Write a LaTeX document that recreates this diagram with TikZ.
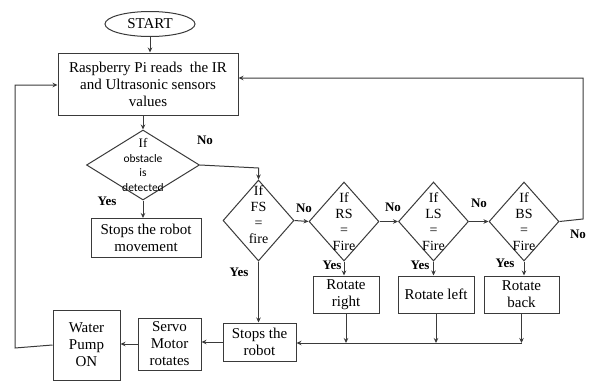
\documentclass[tikz,border=0pt]{standalone}
\usepackage{fontspec}
\setmainfont{Liberation Serif}
\newfontfamily\calfont{Carlito}
\usetikzlibrary{shapes.geometric,arrows.meta}
\definecolor{ln}{HTML}{3A3A3A}
\begin{document}
\begin{tikzpicture}[x=1pt,y=-1pt,
  every path/.style={line width=1pt},
  box/.style={draw=ln, rectangle, inner sep=0pt, align=center, font=\fontsize{15}{17}\selectfont},
  startnode/.style={draw=ln, ellipse, inner sep=0pt, minimum width=90pt, minimum height=25pt, font=\fontsize{15}{17}\selectfont},
  dia/.style={draw=ln, diamond, inner sep=0pt, minimum width=70pt, minimum height=80pt},
  dtxt/.style={align=center, inner sep=0pt, font=\fontsize{14}{16}\selectfont},
  obstxt/.style={align=center, inner sep=0pt, font=\fontsize{11.5}{14.5}\calfont},
  lbl/.style={inner sep=0pt, font=\fontsize{13}{15}\selectfont\bfseries},
  arr/.style={draw=ln, -{Stealth[length=5pt,width=4.5pt]}},
  ln/.style={draw=ln}
]
\useasboundingbox (0,0) rectangle (589,383);

% nodes
\node[startnode] (start) at (150,24) {START};
\node[box, minimum width=180pt, minimum height=62pt] (rpi) at (148,84) {Raspberry Pi reads\ \ the IR\\and Ultrasonic sensors\\values};
\node[dia, minimum width=113pt, minimum height=70pt] (obs) at (143,165) {};
\node[obstxt] (obst) at (143,165) {{\fontsize{13}{14.5}\rmfamily If}\\obstacle\\is\\detected};
\node[box, minimum width=110pt, minimum height=39pt] (stm) at (146,238) {Stops the robot\\movement};

\node[dia, minimum width=71pt, minimum height=81pt] (fs) at (258.5,220.5) {};
\node[dtxt] (fst) at (258.5,215) {If\\FS\\=\\fire};
\node[dia, minimum height=79pt] (rs) at (344,221.5) {};
\node[dtxt] (rst) at (344,222) {If\\RS\\=\\Fire};
\node[dia, minimum height=79pt] (ls) at (433.5,221.5) {};
\node[dtxt] (lst) at (433.5,222) {If\\LS\\=\\Fire};
\node[dia, minimum height=79pt] (bs) at (524,221.5) {};
\node[dtxt] (bst) at (524,222) {If\\BS\\=\\Fire};

\node[box, minimum width=66pt, minimum height=37pt] (rr) at (346,294.5) {Rotate\\right};
\node[box, minimum width=76pt, minimum height=37pt] (rl) at (436,294.5) {Rotate left};
\node[box, minimum width=75pt, minimum height=37pt] (rb) at (521.5,294.5) {Rotate\\back};

\node[box, minimum width=73pt, minimum height=38pt] (sr) at (259.5,342) {Stops the\\robot};
\node[box, minimum width=63pt, minimum height=52pt] (servo) at (169.5,344) {Servo\\Motor\\rotates};
\node[box, minimum width=67pt, minimum height=70pt] (pump) at (86.5,345) {Water\\Pump\\ON};

% labels
\node[lbl] (n1) at (205,140) {No};
\node[lbl] (y1) at (107,201) {Yes};
\node[lbl] (y2) at (239,272) {Yes};
\node[lbl] (n2) at (304,208) {No};
\node[lbl] (n3) at (393,207) {No};
\node[lbl] (n4) at (479,203) {No};
\node[lbl] (n5) at (578,234) {No};
\node[lbl] (y3) at (332,265) {Yes};
\node[lbl] (y4) at (420,265) {Yes};
\node[lbl] (y5) at (505,263) {Yes};

% coordinates
\coordinate (c1) at (258.5,168);
\coordinate (r1) at (583,219);
\coordinate (r2) at (583,78);
\coordinate (l1) at (15,348);
\coordinate (l2) at (15,85);
\coordinate (m3) at (521.5,343);

% connectors
\draw[arr] (start.south) -- (start.south |- rpi.north);
\draw[arr] (rpi.south -| obs.north) -- (obs.north);
\draw[arr] (obs.south) -- (obs.south |- stm.north);
\draw[arr] (obs.east) -- (c1) -- (fs.north);
\draw[arr] (fs.east) -- (rs.west);
\draw[arr] (rs.east) -- (ls.west);
\draw[arr] (ls.east) -- (bs.west);
\draw[arr] (bs.east) -- (r1) -- (r2) -- (r2 -| rpi.east);
\draw[arr] (fs.south) -- (fs.south |- sr.north);
\draw[arr] (rs.south) -- (rs.south |- rr.north);
\draw[arr] (ls.south) -- (ls.south |- rl.north);
\draw[arr] (bs.south) -- (bs.south |- rb.north);
\draw[arr] (rr.south) -- (rr.south |- m3);
\draw[arr] (rl.south) -- (rl.south |- m3);
\draw[arr] (rb.south) -- (m3);
\draw[arr] (m3) -- (m3 -| sr.east);
\draw[arr] (sr.west) -- (sr.west -| servo.east);
\draw[arr] (servo.west) -- (servo.west -| pump.east);
\draw[arr] (pump.west) -- (l1) -- (l2) -- (l2 -| rpi.west);
\end{tikzpicture}
\end{document}
